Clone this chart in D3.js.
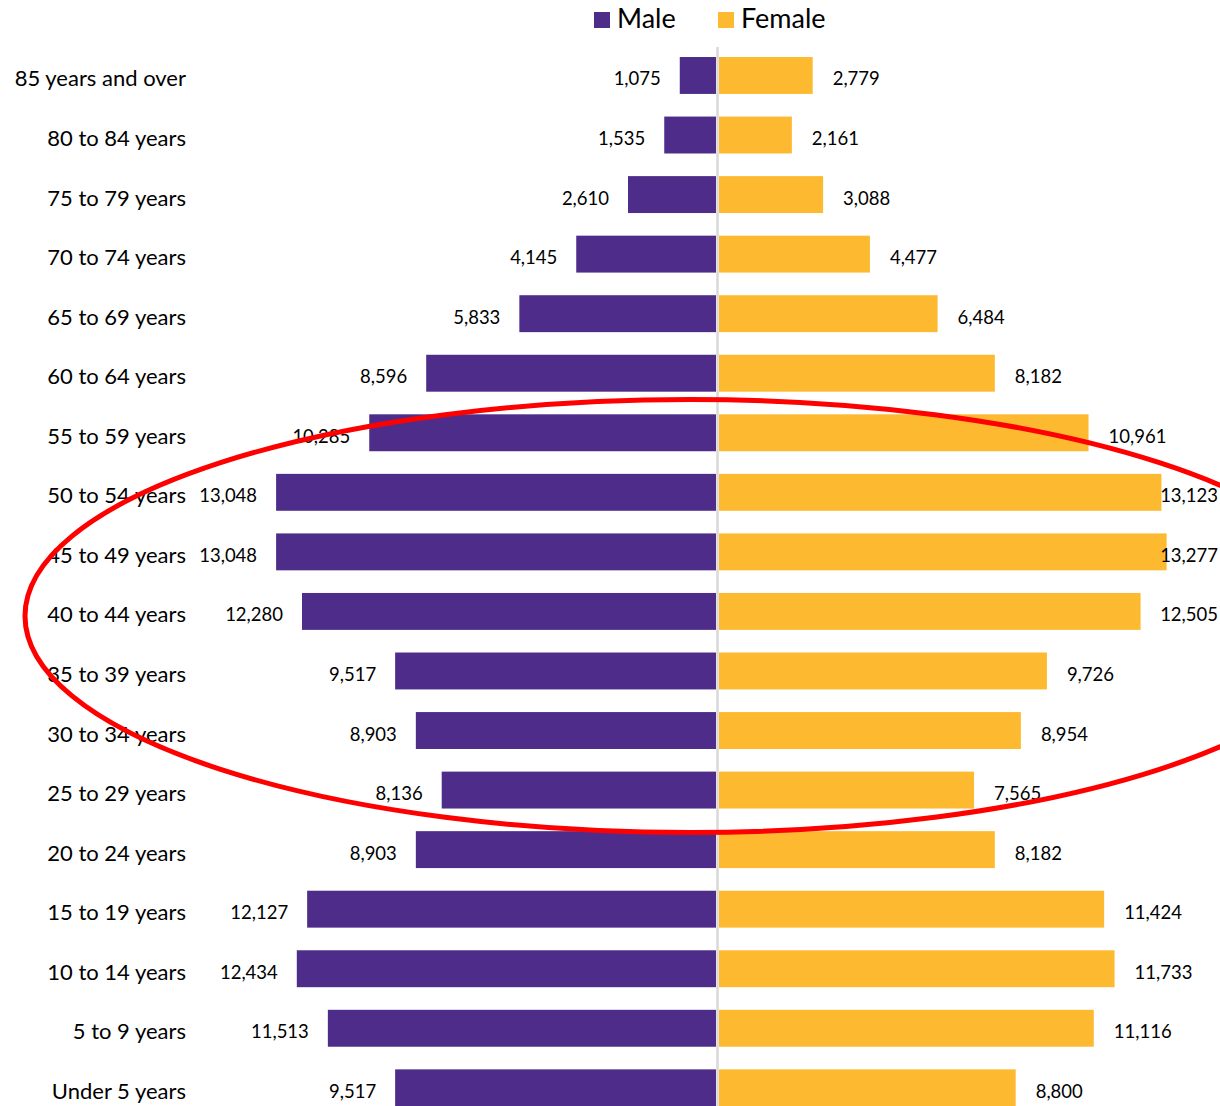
<!DOCTYPE html>
<html>
<head>
<meta charset="utf-8">
<script src="https://cdn.jsdelivr.net/npm/d3@7.9.0/dist/d3.min.js"></script>
<style>
  html, body { margin: 0; padding: 0; background: #fff; }
  svg { display: block; font-family: Lato, "Open Sans", sans-serif; }
</style>
</head>
<body>
<svg id="chart" width="1220" height="1106"></svg>
<script>
const categories = [
  "85 years and over", "80 to 84 years", "75 to 79 years", "70 to 74 years",
  "65 to 69 years", "60 to 64 years", "55 to 59 years", "50 to 54 years",
  "45 to 49 years", "40 to 44 years", "35 to 39 years", "30 to 34 years",
  "25 to 29 years", "20 to 24 years", "15 to 19 years", "10 to 14 years",
  "5 to 9 years", "Under 5 years"
];
const male = [1075, 1535, 2610, 4145, 5833, 8596, 10285, 13048, 13048, 12280,
  9517, 8903, 8136, 8903, 12127, 12434, 11513, 9517];
const female = [2779, 2161, 3088, 4477, 6484, 8182, 10961, 13123, 13277, 12505,
  9726, 8954, 7565, 8182, 11424, 11733, 11116, 8800];
const seriesNames = ["Male", "Female"];

const colors = { Male: "#4e2d8a", Female: "#fdba31" };
const width = 1220;
const center = 717.5;
const fmt = d3.format(",");

const svg = d3.select("#chart");

const y = d3.scaleBand()
  .domain(categories)
  .range([45.7, 45.7 + 18 * 59.55])
  .paddingInner(0.38)
  .paddingOuter(0.19);

// same scale both sides, measured from the centre line
const x = d3.scaleLinear().domain([0, 14000]).range([0, 472]);

const rows = categories.map((c, i) => ({ cat: c, m: male[i], f: female[i] }));

// bars
svg.append("g").selectAll("rect")
  .data(rows)
  .join("rect")
  .attr("x", d => center - 1.5 - x(d.m))
  .attr("y", d => y(d.cat))
  .attr("width", d => x(d.m))
  .attr("height", y.bandwidth())
  .attr("fill", colors.Male);

svg.append("g").selectAll("rect")
  .data(rows)
  .join("rect")
  .attr("x", center + 1.5)
  .attr("y", d => y(d.cat))
  .attr("width", d => x(d.f))
  .attr("height", y.bandwidth())
  .attr("fill", colors.Female);

// centre line
svg.append("line")
  .attr("x1", center).attr("x2", center)
  .attr("y1", 47).attr("y2", 1106)
  .attr("stroke", "#d9d9d9")
  .attr("stroke-width", 2.5);

// category labels
svg.append("g").selectAll("text")
  .data(rows)
  .join("text")
  .attr("x", 186)
  .attr("y", d => y(d.cat) + y.bandwidth() / 2 + 11)
  .attr("text-anchor", "end")
  .attr("font-size", 22)
  .attr("fill", "#000")
  .text(d => d.cat);

// value labels
svg.append("g").selectAll("text")
  .data(rows)
  .join("text")
  .attr("x", d => center - 1.5 - x(d.m) - 19)
  .attr("y", d => y(d.cat) + y.bandwidth() / 2 + 10)
  .attr("text-anchor", "end")
  .attr("font-size", 18.5)
  .attr("fill", "#000")
  .text(d => fmt(d.m));

svg.append("g").selectAll("text")
  .data(rows)
  .join("text")
  .attr("y", d => y(d.cat) + y.bandwidth() / 2 + 10)
  .attr("font-size", 18.5)
  .attr("fill", "#000")
  .text(d => fmt(d.f))
  .attr("x", function (d) {
    // keep labels inside the chart area like excel does
    const w = this.getComputedTextLength();
    return Math.min(center + 1.5 + x(d.f) + 20, width - 2 - w);
  });

// legend
const legendX = [594, 718];
const legend = svg.append("g").selectAll("g")
  .data(seriesNames)
  .join("g")
  .attr("transform", (d, i) => `translate(${legendX[i]},12)`);
legend.append("rect")
  .attr("width", 16).attr("height", 16)
  .attr("fill", d => colors[d]);
legend.append("text")
  .attr("x", 23).attr("y", 16)
  .attr("font-size", 27)
  .attr("fill", "#000")
  .text(d => d);

// red hand-drawn highlight around the middle age groups
svg.append("ellipse")
  .attr("cx", 690)
  .attr("cy", 616)
  .attr("rx", 665)
  .attr("ry", 216.5)
  .attr("fill", "none")
  .attr("stroke", "#ff0000")
  .attr("stroke-width", 5);
</script>
</body>
</html>
